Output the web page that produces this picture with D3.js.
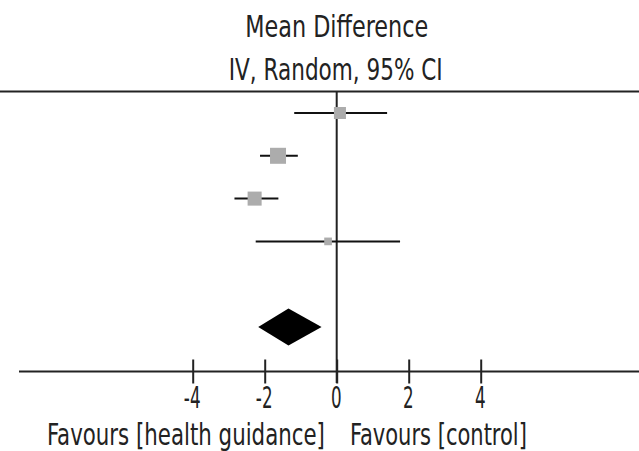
<!DOCTYPE html>
<meta charset="utf-8">
<script src="https://d3js.org/d3.v7.min.js"></script>
<style>
  body { margin: 0; background: #fff; }
  text { font-family: "Liberation Sans Narrow", "DejaVu Sans Condensed", "Liberation Sans", sans-serif; fill: #222; }
</style>
<div id="my_dataviz"></div>
<script>

    // study estimates (mean difference and 95% CI), weights in %
    var studies = ["Study 1", "Study 2", "Study 3", "Study 4"]
    var estimates = [0.09, -1.63, -2.28, -0.24]
    var lowerCI = [-1.18, -2.13, -2.84, -2.25]
    var upperCI = [1.40, -1.08, -1.62, 1.76]
    var weights = [22, 39, 30, 9]

    // pooled estimate
    var pooled = {est: -1.34, lo: -2.18, hi: -0.42}

    var tickValues = [-4, -2, 0, 2, 4]
    var titleLines = ["Mean Difference", "IV, Random, 95% CI"]
    var leftLabel = "Favours [health guidance]"
    var rightLabel = "Favours [control]"

    var width = 639, height = 451

    var svg = d3.select("#my_dataviz")
      .append("svg")
        .attr("width", width)
        .attr("height", height)

    // x scale, y by row index (pooled row is index 5)
    var x = d3.scaleLinear().domain([-4, 4]).range([192.7, 480.7])
    var y = d3.scaleLinear().domain([0, 5]).range([113, 327])
    var size = d3.scaleSqrt().domain([0, 39]).range([0, 16])

    var axisY = 371.5

    // the source font is very condensed: squeeze text horizontally to a target width
    function narrowText(px, py, str, anchor, targetW) {
      var t = svg.append("text")
        .attr("x", 0).attr("y", 0)
        .attr("text-anchor", anchor)
        .attr("font-size", 30)
        .text(str)
      var w = t.node().getComputedTextLength()
      t.attr("transform", "translate(" + px + "," + py + ") scale(" + (targetW / w) + ",1)")
      return t
    }

    // header
    narrowText(x(0), 37, titleLines[0], "middle", 183)
    narrowText(x(0) - 1, 80, titleLines[1], "middle", 214)

    // top rule
    svg.append("line")
      .attr("x1", 0).attr("x2", width)
      .attr("y1", 91.5).attr("y2", 91.5)
      .attr("stroke", "#222").attr("stroke-width", 2)

    // line of no effect
    svg.append("line")
      .attr("x1", x(0)).attr("x2", x(0))
      .attr("y1", 92).attr("y2", 383)
      .attr("stroke", "#222").attr("stroke-width", 2)

    // axis
    var axis = svg.append("g")
      .attr("transform", "translate(0," + axisY + ")")
      .call(d3.axisBottom(x).tickValues(tickValues).tickSize(12).tickFormat(d3.format("d")))
    axis.select(".domain").remove()
    axis.selectAll(".tick line")
      .attr("y1", -12).attr("y2", 12)
      .attr("stroke", "#222").attr("stroke-width", 2)
    axis.selectAll(".tick text")
      .attr("y", 0).attr("dy", null)
      .attr("font-size", 30)
      .attr("font-family", null)
      .attr("fill", "#222")
      .attr("transform", "translate(-1,36) scale(0.62,1)")
      .text(function(d) { return d < 0 ? "-" + Math.abs(d) : d })

    svg.append("line")
      .attr("x1", 19).attr("x2", width)
      .attr("y1", axisY).attr("y2", axisY)
      .attr("stroke", "#222").attr("stroke-width", 2)

    // confidence intervals
    svg.selectAll(".ci")
      .data(studies)
      .enter()
      .append("line")
        .attr("x1", function(d, i) { return x(lowerCI[i]) })
        .attr("x2", function(d, i) { return x(upperCI[i]) })
        .attr("y1", function(d, i) { return y(i) })
        .attr("y2", function(d, i) { return y(i) })
        .attr("stroke", "#111").attr("stroke-width", 2)

    // weight squares
    svg.selectAll(".box")
      .data(studies)
      .enter()
      .append("rect")
        .attr("x", function(d, i) { return x(estimates[i]) - size(weights[i]) / 2 })
        .attr("y", function(d, i) { return y(i) - size(weights[i]) / 2 })
        .attr("width", function(d, i) { return size(weights[i]) })
        .attr("height", function(d, i) { return size(weights[i]) })
        .style("fill", "#acacac")

    // pooled diamond
    var dy = y(5)
    svg.append("path")
      .attr("d", "M" + x(pooled.lo) + "," + dy +
                 "L" + x(pooled.est) + "," + (dy - 18.5) +
                 "L" + x(pooled.hi) + "," + dy +
                 "L" + x(pooled.est) + "," + (dy + 18.5) + "Z")
      .style("fill", "#000")

    // footer
    narrowText(47, 445, leftLabel, "start", 278)
    narrowText(350, 445, rightLabel, "start", 177)

</script>
